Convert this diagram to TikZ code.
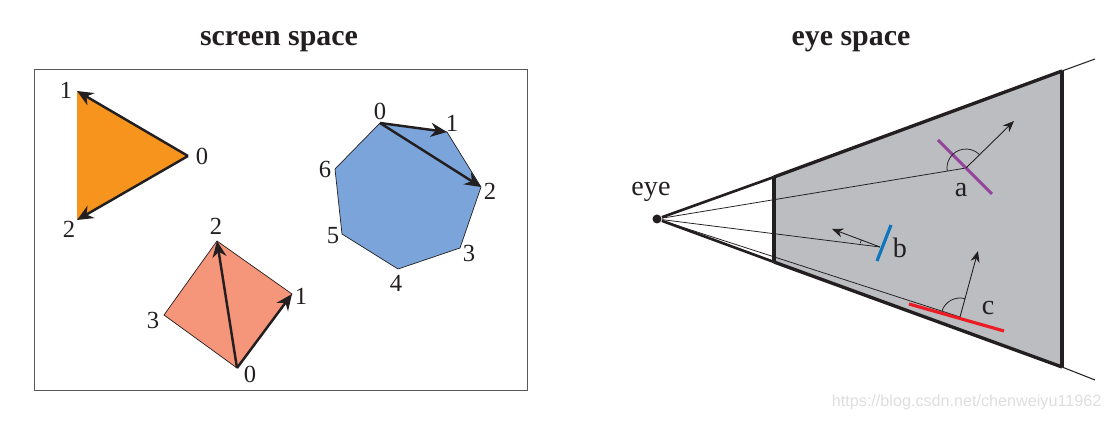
\documentclass[tikz,border=0pt]{standalone}
\usepackage{fontspec}
\setmainfont{Liberation Serif}
\setsansfont{Liberation Sans}
\usepackage{tikz}
\usetikzlibrary{arrows.meta}
\definecolor{orange}{HTML}{F7941D}
\definecolor{salmon}{HTML}{F5957A}
\definecolor{skyblue}{HTML}{7BA5DA}
\definecolor{gray}{HTML}{BBBDC0}
\definecolor{ink}{HTML}{231F20}
\definecolor{purple}{HTML}{92459B}
\definecolor{blue}{HTML}{0E76BC}
\definecolor{red}{HTML}{ED1C24}
\tikzset{
  title/.style={font=\fontsize{8.5}{10}\selectfont\bfseries,text=ink},
  num/.style={font=\fontsize{7}{8}\selectfont,text=ink,inner sep=0pt},
  tag/.style={font=\fontsize{8}{9}\selectfont,text=ink,inner sep=0pt},
  edge/.style={ink,line width=.7pt,-{Stealth[length=4.6pt,width=4pt]},shorten <=0pt},
  side/.style={ink,line width=.75pt},
  sight/.style={ink,line width=.22pt},
  normal/.style={ink,line width=.25pt,-{Stealth[length=3.2pt,width=2.6pt]}}
}
\begin{document}
\begin{tikzpicture}
  \useasboundingbox (0,0) rectangle (11.1,4.21);
  \node[title] (screen) at (2.79,3.79) {screen space};
  \node[title] (eyespace) at (8.51,3.79) {eye space};
  \draw[ink!75,line width=.25pt] (.34,.31) rectangle (5.27,3.52);
  % triangle
  \coordinate (t0) at (1.88,2.65);
  \coordinate (t1) at (.77,3.30);
  \coordinate (t2) at (.77,2.01);
  \fill[orange] (t0)--(t1)--(t2)--cycle;
  \draw[edge] (t0)--(t1);
  \draw[edge] (t0)--(t2);
  \node[num] (nt0) at (2.02,2.65) {0};
  \node[num] (nt1) at (.66,3.31) {1};
  \node[num] (nt2) at (.69,1.92) {2};
  % quad
  \coordinate (q0) at (2.37,.53);
  \coordinate (q1) at (2.92,1.27);
  \coordinate (q2) at (2.17,1.80);
  \coordinate (q3) at (1.64,1.06);
  \filldraw[fill=salmon,draw=ink,line width=.2pt] (q0)--(q1)--(q2)--(q3)--cycle;
  \draw[edge] (q0)--(q1);
  \draw[edge] (q0)--(q2);
  \node[num] (nq0) at (2.50,.47) {0};
  \node[num] (nq1) at (3.01,1.25) {1};
  \node[num] (nq2) at (2.16,1.95) {2};
  \node[num] (nq3) at (1.53,1.01) {3};
  % heptagon
  \coordinate (h0) at (3.80,2.98);
  \coordinate (h1) at (4.47,2.89);
  \coordinate (h2) at (4.81,2.34);
  \coordinate (h3) at (4.60,1.73);
  \coordinate (h4) at (3.98,1.52);
  \coordinate (h5) at (3.42,1.87);
  \coordinate (h6) at (3.35,2.52);
  \filldraw[fill=skyblue,draw=ink,line width=.2pt] (h0)--(h1)--(h2)--(h3)--(h4)--(h5)--(h6)--cycle;
  \draw[edge] (h0)--(h1);
  \draw[edge] (h0)--(h2);
  \node[num] (nh0) at (3.80,3.10) {0};
  \node[num] (nh1) at (4.52,2.98) {1};
  \node[num] (nh2) at (4.90,2.30) {2};
  \node[num] (nh3) at (4.69,1.68) {3};
  \node[num] (nh4) at (3.96,1.38) {4};
  \node[num] (nh5) at (3.33,1.85) {5};
  \node[num] (nh6) at (3.25,2.52) {6};
  % frustum
  \coordinate (neartop) at (7.74,2.44);
  \coordinate (nearbot) at (7.74,1.59);
  \coordinate (fartop) at (10.62,3.50);
  \coordinate (farbot) at (10.62,.54);
  \coordinate (outtop) at (10.95,3.62);
  \coordinate (outbot) at (10.95,.41);
  \fill[gray] (neartop)--(fartop)--(farbot)--(nearbot)--cycle;
  \node[circle,fill=ink,inner sep=0pt,minimum size=.09cm] (eye) at (6.57,2.02) {};
  \draw[side] (eye)--(neartop);
  \draw[side] (eye)--(nearbot);
  \draw[side,line width=.95pt] (neartop)--(fartop);
  \draw[side,line width=.95pt] (nearbot)--(farbot);
  \draw[side,line width=.95pt] (neartop)--(nearbot);
  \draw[side,line width=.95pt] (fartop)--(farbot);
  \draw[sight,line width=.3pt] (fartop)--(outtop);
  \draw[sight,line width=.3pt] (farbot)--(outbot);
  \node[tag] (eyelabel) at (6.51,2.29) {eye};
  % surfaces
  \coordinate (hita) at (9.66,2.53);
  \coordinate (hitb) at (8.80,1.74);
  \coordinate (hitc) at (9.60,1.04);
  \coordinate (tipa) at (10.14,3.00);
  \coordinate (tipb) at (8.32,1.92);
  \coordinate (tipc) at (9.78,1.70);
  \draw[sight] (eye)--(hita);
  \draw[sight] (eye)--(hitb);
  \draw[sight] (eye)--(hitc);
  \draw[purple,line width=.9pt] (9.38,2.81)--(9.92,2.27);
  \draw[blue,line width=.9pt] (8.91,1.96)--(8.77,1.60);
  \draw[red,line width=.9pt] (9.09,1.17)--(10.04,.90);
  \draw[normal] (hita)--(tipa);
  \draw[normal] (hitb)--(tipb);
  \draw[normal] (hitc)--(tipc);
  \draw[sight] (hita) ++(189.4:.19) arc[start angle=189.4,end angle=44.4,radius=.19];
  \draw[sight] (hitb) ++(168.6:.2) arc[start angle=168.6,end angle=159.4,radius=.2];
  \draw[sight] (hitc) ++(162:.19) arc[start angle=162,end angle=74.7,radius=.19];
  \node[tag] (a) at (9.61,2.31) {a};
  \node[tag] (b) at (9.00,1.73) {b};
  \node[tag] (c) at (9.88,1.13) {c};
  \node[font=\fontsize{4.6}{5}\sffamily,text=black!13,anchor=east,inner sep=0pt] (mark) at (11.02,.19) {https://blog.csdn.net/chenweiyu11962};
\end{tikzpicture}
\end{document}
